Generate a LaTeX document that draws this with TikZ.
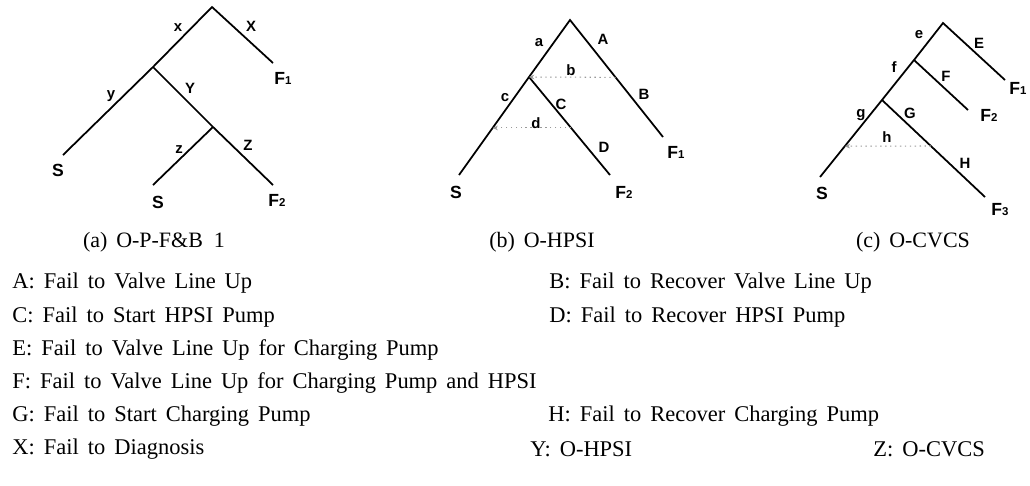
\documentclass[tikz,border=0pt]{standalone}
\usepackage{fontspec}
\setmainfont{Liberation Serif}[WordSpace=1.6]
\newfontfamily\treefont{Liberation Sans}
\usetikzlibrary{arrows.meta, positioning, calc}
\newcommand{\fend}[1]{F{\fontsize{6.5}{7}\selectfont #1}}

\begin{document}
\begin{tikzpicture}[x=0.02cm, y=-0.02cm, >=Stealth,
		branch/.style={line width=1pt},
		link/.style={dash pattern=on 0.8pt off 2pt, line width=0.6pt, gray!80, -{Stealth[length=3pt, width=2.6pt]}},
		lbl/.style={font=\treefont\bfseries\fontsize{8.5}{9}\selectfont, inner sep=0pt},
		endlbl/.style={font=\treefont\bfseries\fontsize{10}{11}\selectfont, inner sep=0pt},
		capt/.style={font=\fontsize{12.5}{14}\selectfont, inner sep=0pt},
		legend/.style={font=\fontsize{12.8}{14}\selectfont, anchor=west, inner sep=0pt}]
	\useasboundingbox (0,0) rectangle (1030,485);
	% (a) O-P-F&B 1
	\coordinate (a0) at (212,7);
	\coordinate (a1) at (153,67);
	\coordinate (a2) at (213,127);
	\coordinate (aF1) at (273,63);
	\coordinate (aS1) at (63,155);
	\coordinate (aS2) at (153,185);
	\coordinate (aF2) at (273,185);
	\draw[branch] (aS1) -- (a1) -- (a0) -- (aF1);
	\draw[branch] (a1) -- (a2) -- (aF2);
	\draw[branch] (a2) -- (aS2);
	\node[lbl] (lx) at (178,28) {x};
	\node[lbl] (lX) at (251,26) {X};
	\node[lbl] (ly) at (111,96) {y};
	\node[lbl] (lY) at (190,88) {Y};
	\node[lbl] (lz) at (179,150) {z};
	\node[lbl] (lZ) at (248,145) {Z};
	\node[endlbl] (eaS1) at (58,170) {S};
	\node[endlbl] (eaS2) at (158,202) {S};
	\node[endlbl] (eaF1) at (283,78) {\fend{1}};
	\node[endlbl] (eaF2) at (277,200) {\fend{2}};
	\node[capt] (capa) at (154,242) {(a) O-P-F\&B\hspace{0.5em}1};
	% (b) O-HPSI
	\coordinate (b0) at (570,20);
	\coordinate (b1) at (529,77);
	\coordinate (bF1) at (663,137);
	\coordinate (bS) at (459,175);
	\coordinate (bF2) at (610,175);
	\draw[branch] (bS) -- (b1) -- (b0) -- (bF1);
	\draw[branch] (b1) -- (bF2);
	\coordinate (bA) at ($(b0)!0.49!(bF1)$);
	\coordinate (bC) at ($(b1)!0.52!(bF2)$);
	\coordinate (bc) at ($(b1)!0.52!(bS)$);
	\draw[link] (bA) -- (b1);
	\draw[link] (bC) -- (bc);
	\node[lbl] (la) at (539,43) {a};
	\node[lbl] (lA) at (603,39) {A};
	\node[lbl] (lb) at (571,70) {b};
	\node[lbl] (lB) at (644,94) {B};
	\node[lbl] (lc) at (505,98) {c};
	\node[lbl] (lC) at (561,104) {C};
	\node[lbl] (ld) at (536,123) {d};
	\node[lbl] (lD) at (604,147) {D};
	\node[endlbl] (ebS) at (456,192) {S};
	\node[endlbl] (ebF1) at (676,152) {\fend{1}};
	\node[endlbl] (ebF2) at (624,192) {\fend{2}};
	\node[capt] (capb) at (542,242) {(b) O-HPSI};
	% (c) O-CVCS
	\coordinate (c0) at (943,23);
	\coordinate (c1) at (914,60);
	\coordinate (c2) at (882,100);
	\coordinate (cF1) at (1005,80);
	\coordinate (cF2) at (968,110);
	\coordinate (cF3) at (985,197);
	\coordinate (cS) at (820,177);
	\draw[branch] (cS) -- (c2) -- (c1) -- (c0) -- (cF1);
	\draw[branch] (c1) -- (cF2);
	\draw[branch] (c2) -- (cF3);
	\coordinate (cG) at ($(c2)!0.474!(cF3)$);
	\coordinate (cg) at ($(c2)!0.6!(cS)$);
	\draw[link] (cG) -- (cg);
	\node[lbl] (le) at (919,35) {e};
	\node[lbl] (lE) at (979,43) {E};
	\node[lbl] (lf) at (894,67) {f};
	\node[lbl] (lF) at (946,76) {F};
	\node[lbl] (lg) at (861,115) {g};
	\node[lbl] (lG) at (910,113) {G};
	\node[lbl] (lh) at (887,137) {h};
	\node[lbl] (lH) at (965,163) {H};
	\node[endlbl] (ecS) at (822,193) {S};
	\node[endlbl] (ecF1) at (1018,88) {\fend{1}};
	\node[endlbl] (ecF2) at (989,115) {\fend{2}};
	\node[endlbl] (ecF3) at (1000,210) {\fend{3}};
	\node[capt] (capc) at (913,242) {(c) O-CVCS};
	% legend
	\foreach \n/\x/\y/\t in {A/12/283/Fail to Valve Line Up,
			B/549/283/Fail to Recover Valve Line Up,
			C/12/317/Fail to Start HPSI Pump,
			D/549/317/Fail to Recover HPSI Pump,
			E/12/350/Fail to Valve Line Up for Charging Pump,
			F/12/383/Fail to Valve Line Up for Charging Pump and HPSI,
			G/12/416/Fail to Start Charging Pump,
			H/548/416/Fail to Recover Charging Pump,
			X/12/449/Fail to Diagnosis,
			Y/530/449/O-HPSI,
			Z/873/449/O-CVCS}{
		\node[legend] (lg\n) at (\x,\y) {\n: \t};
	}
\end{tikzpicture}
\end{document}
